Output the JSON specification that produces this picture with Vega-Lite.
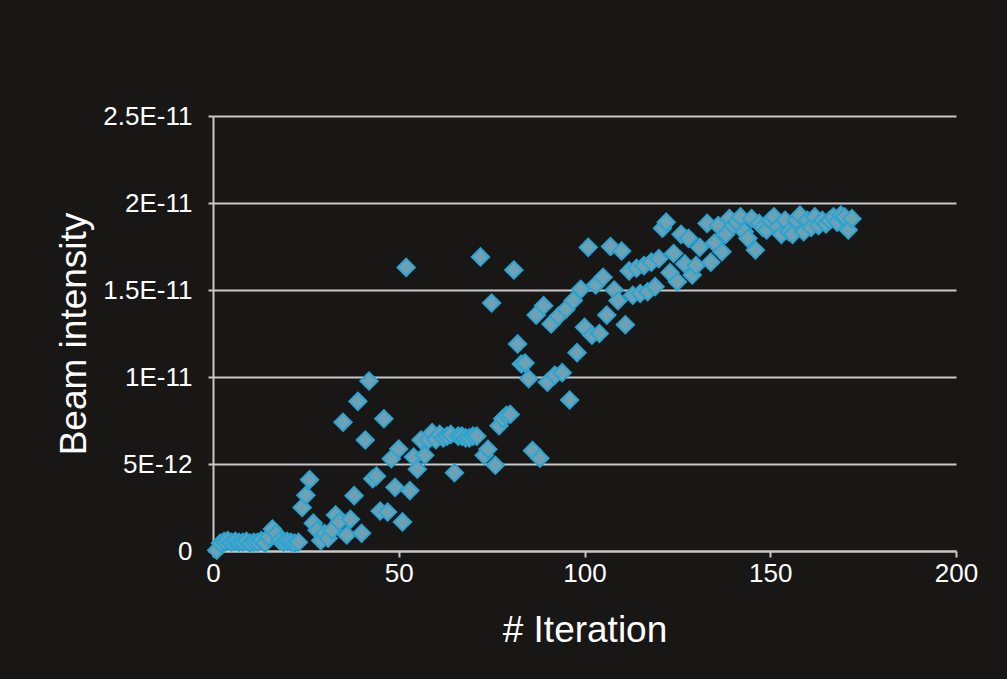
{
  "$schema": "https://vega.github.io/schema/vega-lite/v6.json",
  "autosize": "none",
  "width": 743,
  "height": 435,
  "padding": {"left": 213, "top": 116, "right": 51, "bottom": 128},
  "background": "#181716",
  "config": {
    "view": {"stroke": null},
    "font": "Liberation Sans",
    "axis": {
      "labelFont": "Liberation Sans",
      "titleFont": "Liberation Sans",
      "labelColor": "#ffffff",
      "titleColor": "#ffffff",
      "labelFontSize": 26,
      "titleFontSize": 37,
      "titleFontWeight": "normal",
      "domainColor": "#c8c8c8",
      "domainWidth": 2,
      "tickColor": "#c8c8c8",
      "tickWidth": 2,
      "tickSize": 6,
      "gridColor": "#c8c8c8",
      "gridWidth": 2,
      "gridOpacity": 1,
      "labelFlush": false
    }
  },
  "data": {
    "values": [
      {"iteration": 1, "intensity": 0.05e-12},
      {"iteration": 2, "intensity": 0.45e-12},
      {"iteration": 3, "intensity": 0.55e-12},
      {"iteration": 4, "intensity": 0.6e-12},
      {"iteration": 5, "intensity": 0.5e-12},
      {"iteration": 6, "intensity": 0.55e-12},
      {"iteration": 7, "intensity": 0.5e-12},
      {"iteration": 8, "intensity": 0.5e-12},
      {"iteration": 9, "intensity": 0.55e-12},
      {"iteration": 10, "intensity": 0.45e-12},
      {"iteration": 11, "intensity": 0.5e-12},
      {"iteration": 12, "intensity": 0.5e-12},
      {"iteration": 13, "intensity": 0.6e-12},
      {"iteration": 14, "intensity": 0.45e-12},
      {"iteration": 15, "intensity": 0.8e-12},
      {"iteration": 16, "intensity": 1.26e-12},
      {"iteration": 17, "intensity": 1.0e-12},
      {"iteration": 18, "intensity": 0.6e-12},
      {"iteration": 19, "intensity": 0.5e-12},
      {"iteration": 20, "intensity": 0.55e-12},
      {"iteration": 21, "intensity": 0.5e-12},
      {"iteration": 22, "intensity": 0.45e-12},
      {"iteration": 23, "intensity": 0.5e-12},
      {"iteration": 24, "intensity": 2.5e-12},
      {"iteration": 25, "intensity": 3.2e-12},
      {"iteration": 26, "intensity": 4.1e-12},
      {"iteration": 27, "intensity": 1.6e-12},
      {"iteration": 28, "intensity": 1.2e-12},
      {"iteration": 29, "intensity": 0.6e-12},
      {"iteration": 30, "intensity": 1.0e-12},
      {"iteration": 31, "intensity": 0.73e-12},
      {"iteration": 32, "intensity": 1.2e-12},
      {"iteration": 33, "intensity": 2.07e-12},
      {"iteration": 34, "intensity": 1.68e-12},
      {"iteration": 35, "intensity": 7.4e-12},
      {"iteration": 36, "intensity": 0.92e-12},
      {"iteration": 37, "intensity": 1.82e-12},
      {"iteration": 38, "intensity": 3.18e-12},
      {"iteration": 39, "intensity": 8.6e-12},
      {"iteration": 40, "intensity": 1.02e-12},
      {"iteration": 41, "intensity": 6.38e-12},
      {"iteration": 42, "intensity": 9.77e-12},
      {"iteration": 43, "intensity": 4.15e-12},
      {"iteration": 44, "intensity": 4.3e-12},
      {"iteration": 45, "intensity": 2.3e-12},
      {"iteration": 46, "intensity": 7.6e-12},
      {"iteration": 47, "intensity": 2.24e-12},
      {"iteration": 48, "intensity": 5.3e-12},
      {"iteration": 49, "intensity": 3.66e-12},
      {"iteration": 50, "intensity": 5.86e-12},
      {"iteration": 51, "intensity": 1.67e-12},
      {"iteration": 52, "intensity": 16.3e-12},
      {"iteration": 53, "intensity": 3.47e-12},
      {"iteration": 54, "intensity": 5.4e-12},
      {"iteration": 55, "intensity": 4.7e-12},
      {"iteration": 56, "intensity": 6.38e-12},
      {"iteration": 57, "intensity": 5.5e-12},
      {"iteration": 58, "intensity": 6.4e-12},
      {"iteration": 59, "intensity": 6.8e-12},
      {"iteration": 60, "intensity": 6.4e-12},
      {"iteration": 61, "intensity": 6.7e-12},
      {"iteration": 62, "intensity": 6.5e-12},
      {"iteration": 63, "intensity": 6.6e-12},
      {"iteration": 64, "intensity": 6.7e-12},
      {"iteration": 65, "intensity": 4.5e-12},
      {"iteration": 66, "intensity": 6.6e-12},
      {"iteration": 67, "intensity": 6.6e-12},
      {"iteration": 68, "intensity": 6.5e-12},
      {"iteration": 69, "intensity": 6.5e-12},
      {"iteration": 70, "intensity": 6.6e-12},
      {"iteration": 71, "intensity": 6.6e-12},
      {"iteration": 72, "intensity": 16.9e-12},
      {"iteration": 73, "intensity": 5.5e-12},
      {"iteration": 74, "intensity": 5.85e-12},
      {"iteration": 75, "intensity": 14.25e-12},
      {"iteration": 76, "intensity": 4.93e-12},
      {"iteration": 77, "intensity": 7.2e-12},
      {"iteration": 78, "intensity": 7.6e-12},
      {"iteration": 79, "intensity": 7.8e-12},
      {"iteration": 80, "intensity": 7.85e-12},
      {"iteration": 81, "intensity": 16.15e-12},
      {"iteration": 82, "intensity": 11.9e-12},
      {"iteration": 83, "intensity": 10.75e-12},
      {"iteration": 84, "intensity": 10.8e-12},
      {"iteration": 85, "intensity": 9.9e-12},
      {"iteration": 86, "intensity": 5.77e-12},
      {"iteration": 87, "intensity": 13.56e-12},
      {"iteration": 88, "intensity": 5.33e-12},
      {"iteration": 89, "intensity": 14.1e-12},
      {"iteration": 90, "intensity": 9.7e-12},
      {"iteration": 91, "intensity": 13.05e-12},
      {"iteration": 92, "intensity": 10.1e-12},
      {"iteration": 93, "intensity": 13.5e-12},
      {"iteration": 94, "intensity": 10.25e-12},
      {"iteration": 95, "intensity": 13.9e-12},
      {"iteration": 96, "intensity": 8.68e-12},
      {"iteration": 97, "intensity": 14.4e-12},
      {"iteration": 98, "intensity": 11.4e-12},
      {"iteration": 99, "intensity": 15.04e-12},
      {"iteration": 100, "intensity": 12.86e-12},
      {"iteration": 101, "intensity": 17.45e-12},
      {"iteration": 102, "intensity": 12.4e-12},
      {"iteration": 103, "intensity": 15.29e-12},
      {"iteration": 104, "intensity": 12.5e-12},
      {"iteration": 105, "intensity": 15.73e-12},
      {"iteration": 106, "intensity": 13.56e-12},
      {"iteration": 107, "intensity": 17.5e-12},
      {"iteration": 108, "intensity": 15.0e-12},
      {"iteration": 109, "intensity": 14.38e-12},
      {"iteration": 110, "intensity": 17.24e-12},
      {"iteration": 111, "intensity": 13.0e-12},
      {"iteration": 112, "intensity": 16.1e-12},
      {"iteration": 113, "intensity": 14.7e-12},
      {"iteration": 114, "intensity": 16.25e-12},
      {"iteration": 115, "intensity": 14.8e-12},
      {"iteration": 116, "intensity": 16.4e-12},
      {"iteration": 117, "intensity": 14.9e-12},
      {"iteration": 118, "intensity": 16.6e-12},
      {"iteration": 119, "intensity": 15.19e-12},
      {"iteration": 120, "intensity": 16.8e-12},
      {"iteration": 121, "intensity": 18.55e-12},
      {"iteration": 122, "intensity": 18.9e-12},
      {"iteration": 123, "intensity": 16.0e-12},
      {"iteration": 124, "intensity": 17.1e-12},
      {"iteration": 125, "intensity": 15.48e-12},
      {"iteration": 126, "intensity": 18.2e-12},
      {"iteration": 127, "intensity": 16.5e-12},
      {"iteration": 128, "intensity": 17.97e-12},
      {"iteration": 129, "intensity": 15.86e-12},
      {"iteration": 130, "intensity": 16.4e-12},
      {"iteration": 131, "intensity": 17.45e-12},
      {"iteration": 133, "intensity": 18.83e-12},
      {"iteration": 134, "intensity": 16.6e-12},
      {"iteration": 135, "intensity": 17.7e-12},
      {"iteration": 136, "intensity": 18.7e-12},
      {"iteration": 137, "intensity": 17.2e-12},
      {"iteration": 138, "intensity": 18.2e-12},
      {"iteration": 139, "intensity": 19.1e-12},
      {"iteration": 140, "intensity": 18.7e-12},
      {"iteration": 141, "intensity": 18.9e-12},
      {"iteration": 142, "intensity": 19.2e-12},
      {"iteration": 143, "intensity": 18.35e-12},
      {"iteration": 144, "intensity": 17.97e-12},
      {"iteration": 145, "intensity": 19.1e-12},
      {"iteration": 146, "intensity": 17.3e-12},
      {"iteration": 147, "intensity": 18.83e-12},
      {"iteration": 148, "intensity": 18.6e-12},
      {"iteration": 149, "intensity": 18.45e-12},
      {"iteration": 150, "intensity": 19.0e-12},
      {"iteration": 151, "intensity": 19.2e-12},
      {"iteration": 152, "intensity": 18.6e-12},
      {"iteration": 153, "intensity": 18.2e-12},
      {"iteration": 154, "intensity": 19.0e-12},
      {"iteration": 155, "intensity": 18.35e-12},
      {"iteration": 156, "intensity": 18.2e-12},
      {"iteration": 157, "intensity": 19.0e-12},
      {"iteration": 158, "intensity": 19.3e-12},
      {"iteration": 159, "intensity": 18.35e-12},
      {"iteration": 160, "intensity": 19.0e-12},
      {"iteration": 161, "intensity": 18.6e-12},
      {"iteration": 162, "intensity": 19.2e-12},
      {"iteration": 163, "intensity": 18.7e-12},
      {"iteration": 164, "intensity": 19.0e-12},
      {"iteration": 165, "intensity": 18.8e-12},
      {"iteration": 166, "intensity": 19.0e-12},
      {"iteration": 167, "intensity": 19.2e-12},
      {"iteration": 168, "intensity": 18.9e-12},
      {"iteration": 169, "intensity": 19.3e-12},
      {"iteration": 170, "intensity": 19.2e-12},
      {"iteration": 171, "intensity": 18.45e-12},
      {"iteration": 172, "intensity": 19.1e-12}
    ]
  },
  "mark": {
    "type": "point",
    "shape": "diamond",
    "size": 300,
    "filled": true,
    "fill": "#6fa1b4",
    "stroke": "#2aa5d3",
    "strokeWidth": 2,
    "opacity": 1
  },
  "encoding": {
    "x": {
      "field": "iteration",
      "type": "quantitative",
      "title": "# Iteration",
      "scale": {"domain": [0, 200], "nice": false},
      "axis": {
        "values": [0, 50, 100, 150, 200],
        "grid": false,
        "labelPadding": 3,
        "titlePadding": 26
      }
    },
    "y": {
      "field": "intensity",
      "type": "quantitative",
      "title": "Beam intensity",
      "scale": {"domain": [0, 2.5e-11], "nice": false, "zero": true},
      "axis": {
        "values": [0, 5e-12, 1e-11, 1.5e-11, 2e-11, 2.5e-11],
        "labelExpr": "datum.value == 0 ? '0' : replace(format(datum.value, '~e'), 'e', 'E')",
        "grid": true,
        "tickSize": 5,
        "labelPadding": 16,
        "titlePadding": 9
      }
    }
  }
}
